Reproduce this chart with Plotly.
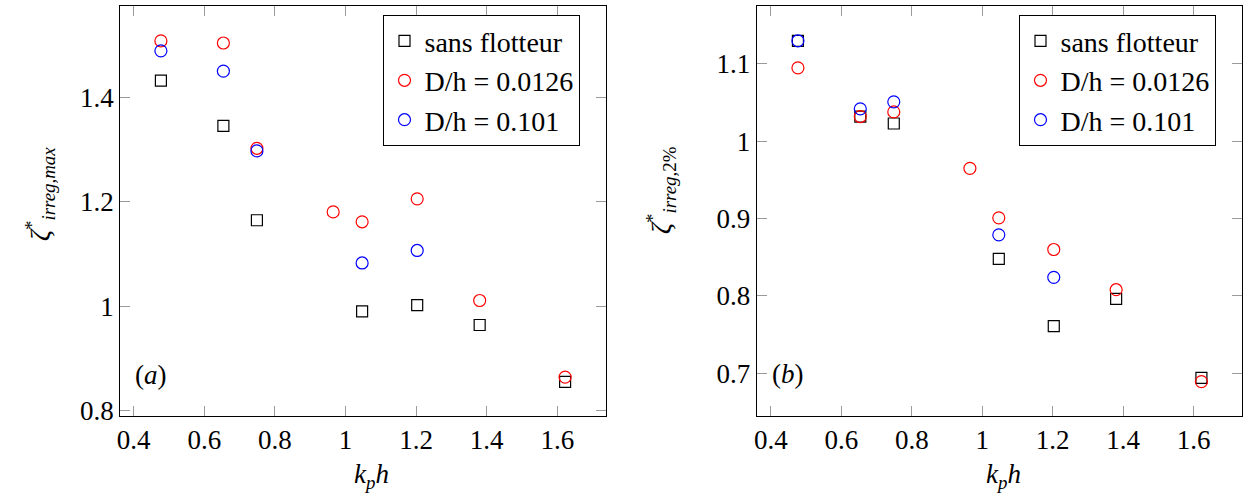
import plotly.graph_objects as go
from plotly.subplots import make_subplots

# ---- data ----
kph_black = [0.477, 0.654, 0.749, 1.047, 1.203, 1.380, 1.622]
kph_red = [0.477, 0.654, 0.749, 0.965, 1.047, 1.203, 1.380, 1.622]
kph_blue = [0.477, 0.654, 0.749, 1.047, 1.203]

a_black = [1.433, 1.346, 1.165, 0.990, 1.002, 0.964, 0.855]
a_red = [1.509, 1.505, 1.303, 1.181, 1.162, 1.206, 1.011, 0.864]
a_blue = [1.490, 1.451, 1.298, 1.083, 1.107]

b_black = [1.130, 1.032, 1.023, 0.848, 0.761, 0.796, 0.694]
b_red = [1.095, 1.032, 1.038, 0.965, 0.901, 0.860, 0.808, 0.689]
b_blue = [1.130, 1.042, 1.051, 0.879, 0.824]

series_names = ["sans flotteur", "D/h = 0.0126", "D/h = 0.101"]

x_tickvals = [0.4, 0.6, 0.8, 1.0, 1.2, 1.4, 1.6]
x_ticktext = ["0.4", "0.6", "0.8", "1", "1.2", "1.4", "1.6"]
ya_tickvals = [0.8, 1.0, 1.2, 1.4]
ya_ticktext = ["0.8", "1", "1.2", "1.4"]
yb_tickvals = [0.7, 0.8, 0.9, 1.0, 1.1]
yb_ticktext = ["0.7", "0.8", "0.9", "1", "1.1"]

W, H = 1244, 498
FONT = "'Liberation Serif', 'DejaVu Serif', serif"
FS = 27
FS_LEG = 28

fig = make_subplots(rows=1, cols=2)

def add_panel(col, yb, yr, yl, legend):
    fig.add_trace(go.Scatter(x=kph_black, y=yb, mode="markers", name=series_names[0],
                             marker=dict(symbol="square-open", size=11, color="black",
                                         line=dict(width=1.2, color="black")),
                             legend=legend), row=1, col=col)
    fig.add_trace(go.Scatter(x=kph_red, y=yr, mode="markers", name=series_names[1],
                             marker=dict(symbol="circle-open", size=12, color="red",
                                         line=dict(width=1.2, color="red")),
                             legend=legend), row=1, col=col)
    fig.add_trace(go.Scatter(x=kph_blue, y=yl, mode="markers", name=series_names[2],
                             marker=dict(symbol="circle-open", size=12, color="blue",
                                         line=dict(width=1.2, color="blue")),
                             legend=legend), row=1, col=col)

add_panel(1, a_black, a_red, a_blue, "legend")
add_panel(2, b_black, b_red, b_blue, "legend2")

ax_common = dict(showgrid=False, zeroline=False, showline=True, linecolor="black",
                 linewidth=1.2, mirror="ticks", ticks="inside", ticklen=10,
                 tickcolor="#9a9a9a", tickwidth=1, automargin=False,
                 tickfont=dict(family=FONT, size=FS, color="black"))

y0 = 1 - 415.7 / H
y1 = 1 - 6 / H
fig.update_layout(
    xaxis=dict(domain=[120.3 / W, 605.7 / W], range=[0.362, 1.737],
               tickvals=x_tickvals, ticktext=x_ticktext, **ax_common),
    yaxis=dict(domain=[y0, y1], range=[0.790, 1.576],
               tickvals=ya_tickvals, ticktext=ya_ticktext, **ax_common),
    xaxis2=dict(domain=[756.7 / W, 1242.3 / W], range=[0.360, 1.738],
                tickvals=x_tickvals, ticktext=x_ticktext, **ax_common),
    yaxis2=dict(domain=[y0, y1], range=[0.645, 1.175],
                tickvals=yb_tickvals, ticktext=yb_ticktext, **ax_common),
)

leg_common = dict(bordercolor="black", borderwidth=1.2, bgcolor="white",
                  font=dict(family=FONT, size=FS_LEG, color="black"),
                  xanchor="left", yanchor="top", tracegroupgap=0, itemwidth=30)
fig.update_layout(
    legend=dict(x=383.3 / W, y=1 - 15 / H, **leg_common),
    legend2=dict(x=1019.3 / W, y=1 - 15 / H, **leg_common),
)

def ann(text, px, py, angle=0):
    fig.add_annotation(text=text, x=px / W, y=1 - py / H, xref="paper", yref="paper",
                       showarrow=False, textangle=angle, xanchor="center", yanchor="middle",
                       font=dict(family=FONT, size=FS, color="black"))

ann("<i>k<sub>p</sub>h</i>", 371, 476)
ann("<i>k<sub>p</sub>h</i>", 1003, 476)
ann("<i>ζ</i><sup>*</sup><sub><i>irreg,max</i></sub>", 40, 194, -90)
ann("<i>ζ</i><sup>*</sup><sub><i>irreg,</i>2%</sub>", 661, 190, -90)
ann("(<i>a</i>)", 151, 375)
ann("(<i>b</i>)", 788, 374)

fig.update_layout(width=W, height=H, margin=dict(l=0, r=0, t=0, b=0),
                  plot_bgcolor="white", paper_bgcolor="white", showlegend=True)

fig.write_html("out.html", config={"displayModeBar": False},
               post_script="document.body.style.margin='0';document.body.style.overflow='hidden';")
